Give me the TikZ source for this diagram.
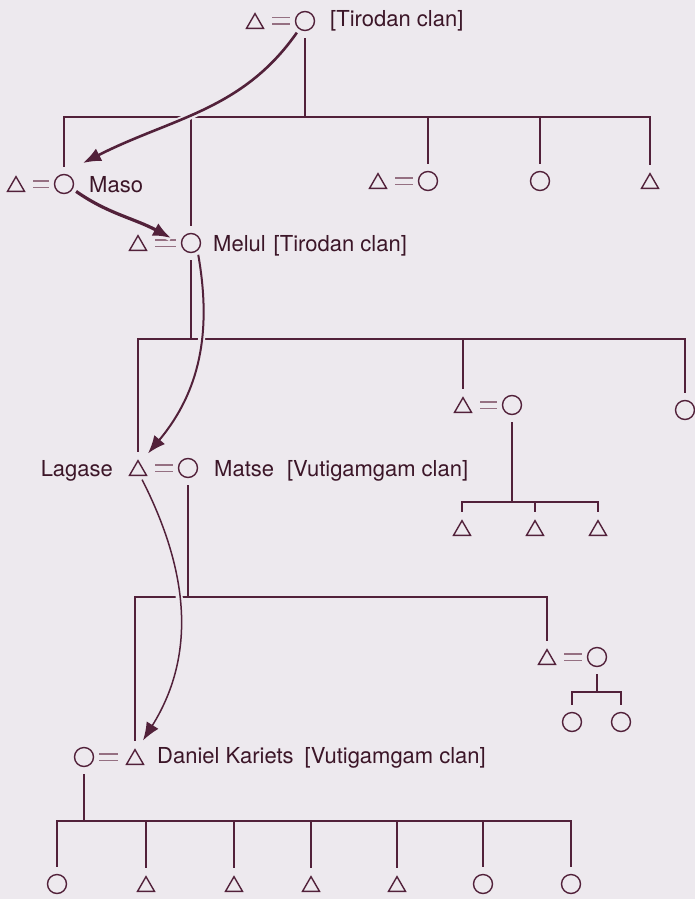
\documentclass[tikz,border=0pt]{standalone}
\usepackage{fontspec}
\setmainfont{TeX Gyre Heros}
\usetikzlibrary{shapes.geometric,arrows.meta}
\definecolor{paper}{HTML}{EDE9EE}
\definecolor{ink}{HTML}{52213A}
\definecolor{inktext}{HTML}{3C1628}
\definecolor{eqline}{HTML}{957082}
\tikzset{
	man/.style={draw=ink, line width=1.4pt, regular polygon, regular polygon sides=3, minimum size=19.6pt, inner sep=0pt, yshift=-2.45pt},
	woman/.style={draw=ink, line width=1.4pt, circle, minimum size=19pt, inner sep=0pt},
	marriage/.style={draw=eqline, line width=1.3pt, double=paper, double distance=5pt, shorten <=17pt, shorten >=5pt},
	kin/.style={draw=ink, line width=2pt, shorten >=7pt},
	bus/.style={draw=ink, line width=2pt, line cap=rect},
	lineage/.style={draw=ink, -{Latex[length=18pt,width=14pt]}, shorten <=4pt, preaction={draw=paper, line width=7pt, -}},
	tag/.style={anchor=base west, text=inktext, font=\fontsize{22}{26}\selectfont, inner sep=0pt}
}
\begin{document}
\begin{tikzpicture}[x=1pt, y=-1pt]
		\useasboundingbox[fill=paper] (0,0) rectangle (695,899);
		% couples
		\node[man] (t0) at (255,21) {};
		\node[woman] (c0) at (305,21) {};
		\node[tag] (l0) at (330,27) {[Tirodan clan]};
		\node[man] (m1t) at (16,184) {};
		\node[woman] (m1c) at (64,184) {};
		\node[tag] (l1) at (89,192) {Maso};
		\node[man] (m2t) at (138,243) {};
		\node[woman] (m2c) at (191,243) {};
		\node[tag] (l2) at (213,251) {Melul\hspace{8pt}[Tirodan clan]};
		\node[man] (r1t) at (378,181) {};
		\node[woman] (r1c) at (428,181) {};
		\node[woman] (k4) at (540,181) {};
		\node[man] (k5) at (650,181) {};
		\node[man] (m3t) at (138,468) {};
		\node[woman] (m3c) at (188,468) {};
		\node[tag, anchor=base east] (l3) at (113,476) {Lagase};
		\node[tag] (l4) at (214,476) {Matse\hspace{13pt}[Vutigamgam clan]};
		\node[man] (r2t) at (463,405) {};
		\node[woman] (r2c) at (512,405) {};
		\node[woman] (k6) at (685,410) {};
		\node[man] (g1) at (462,528) {};
		\node[man] (g2) at (535,528) {};
		\node[man] (g3) at (598,528) {};
		\node[woman] (m4c) at (84,757) {};
		\node[man] (m4t) at (135,757) {};
		\node[tag] (l5) at (157,763) {Daniel Kariets\hspace{11pt}[Vutigamgam clan]};
		\node[man] (r3t) at (547,657) {};
		\node[woman] (r3c) at (597,657) {};
		\node[woman] (h1) at (572,722) {};
		\node[woman] (h2) at (621,722) {};
		\node[woman] (d1) at (57,884) {};
		\node[man] (d2) at (146,884) {};
		\node[man] (d3) at (234,884) {};
		\node[man] (d4) at (311,884) {};
		\node[man] (d5) at (397,884) {};
		\node[woman] (d6) at (483,884) {};
		\node[woman] (d7) at (571,884) {};
		\foreach \a/\b in {t0/c0,m1t/m1c,m2t/m2c,r1t/r1c,m3t/m3c,r2t/r2c,m4t/m4c,r3t/r3c}
			\draw[marriage] (\a |- \b) -- (\b);
		% sibling lines
		\coordinate (bus1) at (0,117);
		\coordinate (bus2) at (0,339);
		\coordinate (bus3) at (0,502);
		\coordinate (bus4) at (0,597);
		\coordinate (bus5) at (0,692);
		\coordinate (bus6) at (0,821);
		\draw[bus] (m1c |- bus1) -- (k5 |- bus1);
		\draw[bus] (m3t |- bus2) -- (k6 |- bus2);
		\draw[bus] (g1 |- bus3) -- (g3 |- bus3);
		\draw[bus] (m4t |- bus4) -- (r3t |- bus4);
		\draw[bus] (h1 |- bus5) -- (h2 |- bus5);
		\draw[bus] (d1 |- bus6) -- (d7 |- bus6);
		\foreach \m/\b in {c0/bus1,m2c/bus2,r2c/bus3,m3c/bus4,r3c/bus5,m4c/bus6}
			\draw[kin] (\m |- \b) -- (\m);
		\foreach \n in {m1c,m2c,r1c,k4,k5}
			\draw[kin] (\n |- bus1) -- (\n);
		\foreach \n in {m3t,r2t,k6}
			\draw[kin] (\n |- bus2) -- (\n);
		\foreach \n in {g1,g2,g3}
			\draw[kin] (\n |- bus3) -- (\n);
		\foreach \n in {m4t,r3t}
			\draw[kin] (\n |- bus4) -- (\n);
		\foreach \n in {h1,h2}
			\draw[kin] (\n |- bus5) -- (\n);
		\foreach \n in {d1,d2,d3,d4,d5,d6,d7}
			\draw[kin] (\n |- bus6) -- (\n);
		% line of succession
		\draw[lineage, line width=2.6pt] (c0.-125) to[out=235, in=27] ([shift={(19,-21)}]m1c.center);
		\draw[lineage, line width=3.2pt] (m1c.-30) to[out=-35, in=152] ([shift={(-20,-5)}]m2c.center);
		\draw[lineage, line width=2pt] (m2c.-50) to[out=-80, in=50] ([shift={(10,-17)}]m3t.center);
		\draw[lineage, line width=1.5pt] (m3t.-68) to[out=-63, in=58] ([shift={(8,-19)}]m4t.center);
	\end{tikzpicture}
\end{document}
